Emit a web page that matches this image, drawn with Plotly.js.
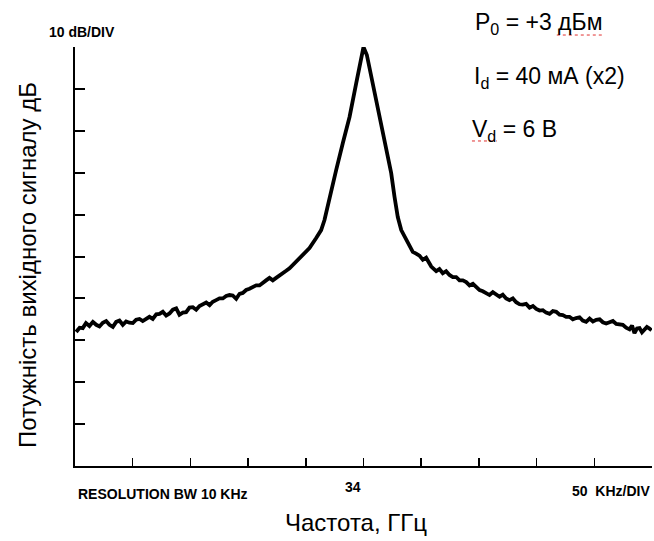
<!DOCTYPE html>
<html>
<head>
<meta charset="utf-8">
<script src="https://cdn.plot.ly/plotly-3.0.1.min.js"></script>
<style>html,body{margin:0;padding:0;background:#fff;}#chart{width:654px;height:541px;}</style>
</head>
<body>
<div id="chart"></div>
<script>
// Frequency offset from 34 GHz carrier, kHz (50 kHz/div)
const freqOffsetKHz = [
  -249.0,-246.0,-243.3,-240.5,-237.5,-234.5,-231.6,-228.8,-225.9,-223.0,-220.1,-217.2,-214.3,-211.5,-208.6,-205.7,-202.8,-199.9,-197.0,-194.1,-191.3,-188.4,-185.5,-182.6,-179.6,-176.8,-173.9,-171.0,-168.1,-165.2,-162.3,-159.5,-156.6,-153.7,-150.8,-147.9,-145.0,-142.1,-139.2,-136.3,-133.4,-130.6,-127.7,-124.8,-121.9,-119.0,-116.1,-113.3,-110.3,-107.4,-104.6,-101.7,-98.8,-95.9,-93.0,-90.1,-87.3,-84.4,-81.5,-78.6,-75.7,-72.8,-69.9,-67.0,-64.1,-59.8,-55.5,-51.2,-46.8,-41.0,-36.7,-33.8,-29.5,-23.7,-17.9,-12.1,-6.3,-2.0,0.0,
  2.9,8.1,13.9,19.7,24.0,26.9,29.7,32.7,37.0,42.7,45.6,48.5,51.4,54.3,58.7,63.0,65.8,68.7,71.6,74.5,77.4,80.3,83.2,86.1,89.0,91.9,94.8,97.7,100.6,103.4,106.3,109.2,112.1,115.0,117.9,120.7,123.6,126.5,129.4,132.3,135.2,138.0,140.9,143.9,146.8,149.7,152.6,155.4,158.3,161.2,164.1,167.0,169.9,172.7,175.6,178.5,181.4,184.3,187.2,190.0,192.9,195.9,198.8,201.7,204.6,207.4,210.3,213.2,216.1,219.0,221.9,224.7,227.6,230.5,232.7,234.8,237.0,239.2,241.3,243.5,245.6,247.8,249.6
];
// Output power, dB (10 dB/div, top = 0 dB reference)
const powerDB = [
  -68.0,-67.0,-67.1,-65.9,-66.6,-65.6,-66.3,-66.7,-65.8,-65.4,-66.3,-66.8,-65.6,-65.3,-66.3,-65.5,-65.8,-65.9,-65.1,-64.9,-65.4,-64.8,-64.4,-64.9,-63.8,-63.7,-63.2,-64.1,-63.6,-62.7,-62.4,-63.9,-63.4,-63.3,-62.2,-62.1,-62.7,-61.8,-61.5,-61.0,-61.6,-60.8,-60.4,-60.0,-60.0,-59.4,-59.2,-59.3,-60.1,-58.9,-58.7,-58.0,-57.7,-57.2,-56.9,-56.9,-56.2,-55.7,-55.1,-55.7,-55.1,-54.6,-54.1,-53.4,-52.8,-51.6,-50.4,-49.0,-48.0,-45.6,-43.7,-41.3,-35.8,-29.4,-22.9,-16.7,-8.6,-2.4,0.0,
  -1.9,-8.6,-16.2,-23.9,-30.1,-35.8,-40.6,-43.7,-46.1,-48.9,-49.3,-49.8,-50.8,-50.3,-52.4,-53.5,-53.0,-54.0,-53.5,-54.4,-54.9,-54.9,-55.7,-55.7,-56.1,-56.9,-56.5,-57.3,-58.0,-58.3,-58.7,-59.2,-58.5,-59.1,-59.6,-59.1,-60.0,-60.4,-60.0,-60.9,-61.4,-61.5,-61.3,-62.2,-61.8,-62.5,-62.9,-62.8,-63.4,-63.7,-63.0,-63.2,-63.9,-64.0,-64.4,-64.4,-65.0,-64.7,-64.5,-65.3,-65.6,-64.8,-65.5,-65.1,-65.0,-65.7,-66.0,-65.7,-65.4,-66.1,-66.3,-66.3,-67.0,-67.4,-66.5,-68.3,-67.2,-67.1,-68.1,-67.5,-66.8,-67.2,-67.6
];
const xTickVals = [-250,-200,-150,-100,-50,0,50,100,150,200,250];
const yTickVals = [-100,-90,-80,-70,-60,-50,-40,-30,-20,-10,0];

const sans = "Liberation Sans, Arial, sans-serif";

const data = [{
  type: 'scatter', mode: 'lines',
  x: freqOffsetKHz, y: powerDB,
  line: {color: '#000', width: 3.8, shape: 'linear'},
  hoverinfo: 'skip'
}];

const layout = {
  width: 654, height: 541,
  margin: {l: 75, r: 2, t: 47, b: 75},
  paper_bgcolor: '#fff', plot_bgcolor: '#fff',
  showlegend: false,
  xaxis: {
    range: [-250, 250], tickvals: xTickVals, showticklabels: false,
    ticks: 'inside', ticklen: 8, tickwidth: 1.5, tickcolor: '#000',
    showline: true, linecolor: '#000', linewidth: 2, mirror: false,
    showgrid: false, zeroline: false
  },
  yaxis: {
    range: [-100, 0], tickvals: yTickVals, showticklabels: false,
    ticks: 'inside', ticklen: 10, tickwidth: 2, tickcolor: '#000',
    showline: true, linecolor: '#000', linewidth: 2, mirror: false,
    showgrid: false, zeroline: false
  },
  annotations: [
    {text: 'Частота, ГГц', xref: 'paper', yref: 'paper', x: 0.487, y: -0.136, xanchor: 'center', yanchor: 'middle', showarrow: false, font: {family: sans, size: 24, color: '#000'}},
    {text: 'Потужність вихідного сигналу дБ', xref: 'paper', yref: 'paper', x: -0.0832, y: 0.4797, xanchor: 'center', yanchor: 'middle', textangle: -90, showarrow: false, font: {family: sans, size: 24, color: '#000'}},
    {text: '<b>10 dB/DIV</b>', xref: 'paper', yref: 'paper', x: -0.0485, y: 1.0358, xanchor: 'left', yanchor: 'middle', showarrow: false, font: {family: sans, size: 14, color: '#000'}},
    {text: 'P<sub>0</sub> = +3 дБм', xref: 'paper', yref: 'paper', x: 0.6898, y: 1.0549, xanchor: 'left', yanchor: 'middle', showarrow: false, font: {family: sans, size: 23, color: '#000'}},
    {text: 'I<sub>d</sub> = 40 мА (x2)', xref: 'paper', yref: 'paper', x: 0.688, y: 0.9284, xanchor: 'left', yanchor: 'middle', showarrow: false, font: {family: sans, size: 23, color: '#000'}},
    {text: 'V<sub>d</sub> = 6 В', xref: 'paper', yref: 'paper', x: 0.6846, y: 0.8019, xanchor: 'left', yanchor: 'middle', showarrow: false, font: {family: sans, size: 23, color: '#000'}},
    {text: '<b>RESOLUTION BW 10 KHz</b>', xref: 'paper', yref: 'paper', x: 0.0017, y: -0.0668, xanchor: 'left', yanchor: 'middle', showarrow: false, font: {family: sans, size: 14, color: '#000'}},
    {text: '<b>34</b>', xref: 'paper', yref: 'paper', x: 0.4818, y: -0.0501, xanchor: 'center', yanchor: 'middle', showarrow: false, font: {family: sans, size: 14, color: '#000'}},
    {text: '<b>50  KHz/DIV</b>', xref: 'paper', yref: 'paper', x: 1.0, y: -0.0597, xanchor: 'right', yanchor: 'middle', showarrow: false, font: {family: sans, size: 14, color: '#000'}}
  ],
  shapes: [
    {type: 'line', xref: 'paper', yref: 'paper', x0: 0.835, x1: 0.918, y0: 1.0286, y1: 1.0286, line: {color: '#e03030', width: 1, dash: 'dot'}},
    {type: 'line', xref: 'paper', yref: 'paper', x0: 0.688, x1: 0.731, y0: 0.7757, y1: 0.7757, line: {color: '#e03030', width: 1, dash: 'dot'}}
  ]
};

Plotly.newPlot('chart', data, layout, {staticPlot: true, displayModeBar: false});
</script>
</body>
</html>
